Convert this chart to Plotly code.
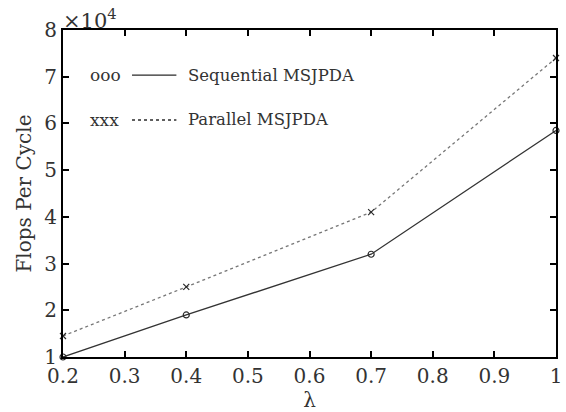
import plotly.graph_objects as go

lam = [0.2, 0.4, 0.7, 1.0]
sequential = [1.0, 1.9, 3.2, 5.85]
parallel = [1.45, 2.5, 4.1, 7.4]
x_ticks = [0.2, 0.3, 0.4, 0.5, 0.6, 0.7, 0.8, 0.9, 1.0]
x_tick_labels = ["0.2", "0.3", "0.4", "0.5", "0.6", "0.7", "0.8", "0.9", "1"]
y_ticks = [1, 2, 3, 4, 5, 6, 7, 8]

FONT = "DejaVu Serif"
INK = "#2a2a2a"
TXT = "#333333"

fig = go.Figure()
fig.add_trace(go.Scatter(
    x=lam, y=sequential, mode="lines+markers", name="Sequential MSJPDA",
    line=dict(color="#333333", width=1.3),
    marker=dict(symbol="circle-open", size=6, color=INK, line=dict(width=1.2)),
    cliponaxis=False,
))
fig.add_trace(go.Scatter(
    x=lam, y=parallel, mode="lines+markers", name="Parallel MSJPDA",
    line=dict(color="#777777", width=1.3, dash="dot"),
    marker=dict(symbol="x-thin-open", size=6, color=INK, line=dict(width=1.2)),
    cliponaxis=False,
))

fig.update_layout(
    width=566, height=412,
    margin=dict(l=63, r=4, t=30, b=55),
    paper_bgcolor="white", plot_bgcolor="white",
    showlegend=False,
    font=dict(family=FONT, color=INK, size=20),
)
fig.update_xaxes(
    range=[0.2, 1.0], tickvals=x_ticks, ticktext=x_tick_labels,
    ticks="inside", ticklen=6, tickwidth=1.5, tickcolor="black",
    showline=True, linecolor="black", linewidth=2, mirror="ticks",
    showgrid=False, zeroline=False, ticklabeloverflow="allow",
    tickfont=dict(size=20, family=FONT, color=TXT),
    title=dict(text="λ", font=dict(size=20, family=FONT, color=TXT), standoff=6),
)
fig.update_yaxes(
    range=[1, 8], tickvals=y_ticks,
    ticks="inside", ticklen=6, tickwidth=1.5, tickcolor="black",
    showline=True, linecolor="black", linewidth=2, mirror="ticks",
    showgrid=False, zeroline=False, ticklabeloverflow="allow",
    tickfont=dict(size=20, family=FONT, color=TXT),
    title=dict(text="Flops Per Cycle", font=dict(size=20, family=FONT, color=TXT), standoff=7),
)

fig.add_annotation(xref="paper", yref="paper", x=0.0, y=1.0, xanchor="left", yanchor="bottom",
                   text="×10<sup>4</sup>", showarrow=False,
                   font=dict(size=21, family=FONT, color=TXT),
                   xshift=-2, yshift=-5)

rows = [
    ("ooo", "Sequential MSJPDA", "solid", 0.862),
    ("xxx", "Parallel MSJPDA", "dot", 0.725),
]
for sym, label, dash, yy in rows:
    fig.add_annotation(xref="paper", yref="paper", x=0.050, y=yy, xanchor="left", yanchor="middle",
                       text=sym, showarrow=False, font=dict(size=17, family=FONT, color=TXT))
    fig.add_annotation(xref="paper", yref="paper", x=0.2505, y=yy, xanchor="left", yanchor="middle",
                       text=label, showarrow=False, font=dict(size=16.5, family=FONT, color=TXT))
    fig.add_shape(type="line", xref="paper", yref="paper", x0=0.140, x1=0.230, y0=yy, y1=yy,
                  line=dict(color=INK, width=1.3 if dash == "solid" else 1.5, dash=dash))

fig.write_html(
    "out.html",
    config={"displayModeBar": False},
    post_script="document.body.style.margin='0';document.body.style.overflow='hidden';",
)
